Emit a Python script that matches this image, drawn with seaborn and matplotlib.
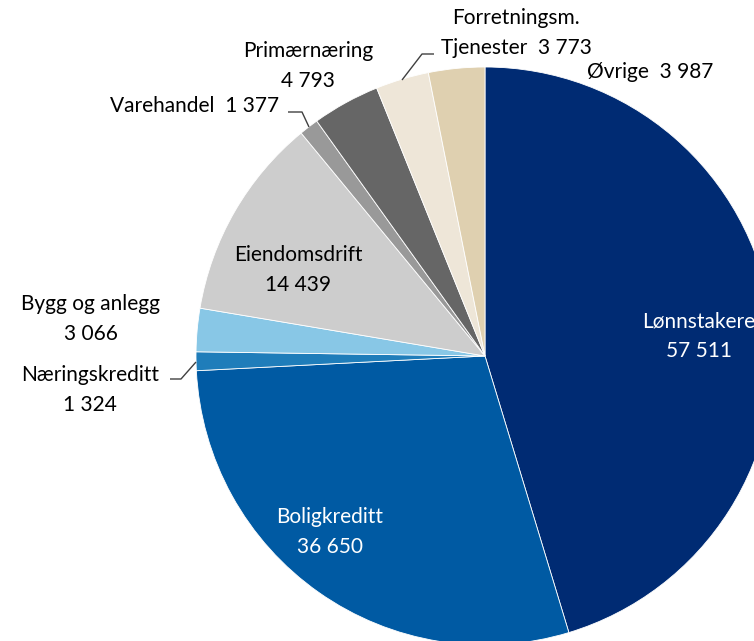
import matplotlib
matplotlib.use("Agg")
import matplotlib.pyplot as plt
import seaborn as sns

# Lending by sector (NOK million)
sectors = ["Lønnstakere", "Boligkreditt", "Næringskreditt", "Bygg og anlegg",
           "Eiendomsdrift", "Varehandel", "Primærnæring",
           "Forretningsm.\nTjenester", "Øvrige"]
amounts = [57511, 36650, 1324, 3066, 14439, 1377, 4793, 3773, 3987]
colors = ["#002B73", "#005AA3", "#1F7DBA", "#88C7E6", "#CDCDCD",
          "#999999", "#666666", "#EEE6D8", "#DFD0B0"]

sns.set_theme(style="white")
plt.rcParams["font.family"] = ["Lato", "DejaVu Sans"]

W, H = 754, 641
fig = plt.figure(figsize=(W / 100, H / 100), dpi=100)
ax = fig.add_axes([0, 0, 1, 1])

# pie centre and radius in pixels
cx, cy, R = 485, 356, 289

wedges, _ = ax.pie(amounts, colors=colors, startangle=90, counterclock=False,
                   radius=1, wedgeprops=dict(edgecolor="white", linewidth=0.6))
ax.set_aspect("auto")
ax.set_xlim(-cx / R, (W - cx) / R)
ax.set_ylim(-(H - cy) / R, cy / R)
ax.axis("off")


def px(x, y):
    return (x - cx) / R, (cy - y) / R


def fmt(v):
    return f"{v:,}".replace(",", " ")


FS = 15
LS = 1.6

# label layout: (text position in pixels, single line?, colour)
layout = {
    "Lønnstakere": ((699, 336), False, "white"),
    "Boligkreditt": ((330, 532), False, "white"),
    "Næringskreditt": ((90, 390), False, "black"),
    "Bygg og anlegg": ((91, 319), False, "black"),
    "Eiendomsdrift": ((298, 270), False, "black"),
    "Varehandel": ((195, 106), True, "black"),
    "Primærnæring": ((308, 66), False, "black"),
    "Forretningsm.\nTjenester": ((516, 33), True, "black"),
    "Øvrige": ((650, 72), True, "black"),
}

for name, val in zip(sectors, amounts):
    (x, y), inline, col = layout[name]
    txt = f"{name}  {fmt(val)}" if inline else f"{name}\n{fmt(val)}"
    ax.text(*px(x, y), txt, ha="center", va="center", color=col,
            fontsize=FS, linespacing=LS, clip_on=False)

# leader lines for the small slices
leaders = [
    [(170, 379), (181, 379), (196, 362)],
    [(288, 112), (302, 112), (309, 127)],
    [(434, 54), (422, 54), (402, 80)],
]
for pts in leaders:
    xs, ys = zip(*[px(a, b) for a, b in pts])
    ax.plot(xs, ys, color="#404040", lw=1.0, solid_capstyle="butt")

fig.savefig("out.png", dpi=100)
